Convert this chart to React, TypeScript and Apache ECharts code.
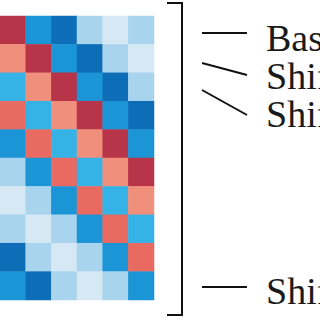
import React, { useEffect, useRef } from "react";
import * as echarts from "echarts";

// Heatmap categories (columns left to right, rows top to bottom)
const colLabels = ["c0", "c1", "c2", "c3", "c4", "c5"];
const rowLabels = ["r0", "r1", "r2", "r3", "r4", "r5", "r6", "r7", "r8", "r9"];

// Cell values (estimated correlation-like levels)
const row0 = [1.0, -0.6, -0.8, -0.2, -0.05, -0.2];
const row1 = [0.5, 1.0, -0.6, -0.8, -0.2, -0.05];
const row2 = [-0.4, 0.5, 1.0, -0.6, -0.8, -0.2];
const row3 = [0.7, -0.4, 0.5, 1.0, -0.6, -0.8];
const row4 = [-0.6, 0.7, -0.4, 0.5, 1.0, -0.6];
const row5 = [-0.2, -0.6, 0.7, -0.4, 0.5, 1.0];
const row6 = [-0.05, -0.2, -0.6, 0.7, -0.4, 0.5];
const row7 = [-0.2, -0.05, -0.2, -0.6, 0.7, -0.4];
const row8 = [-0.8, -0.2, -0.05, -0.2, -0.6, 0.7];
const row9 = [-0.6, -0.8, -0.2, -0.05, -0.2, -0.6];
const rows = [row0, row1, row2, row3, row4, row5, row6, row7, row8, row9];

// Legend labels
const labels = ["Baseline", "Shift 1", "Shift 2", "Shift N"];

export default function App() {
  const ref = useRef<HTMLDivElement>(null);
  useEffect(() => {
    if (!ref.current) return;
    const chart = echarts.init(ref.current, null, { renderer: "svg" });
    const data: [number, number, number][] = [];
    rows.forEach((r, ri) => r.forEach((v, ci) => data.push([ci, ri, v])));
    const font = "'Liberation Serif', 'Times New Roman', serif";
    const lineStyle = { stroke: "#111", lineWidth: 2 };
    chart.setOption({
      animation: false,
      backgroundColor: "#ffffff",
      grid: { left: -16.4, top: 16, width: 170.4, height: 284 },
      xAxis: { type: "category", data: colLabels, show: false },
      yAxis: { type: "category", data: rowLabels, show: false, inverse: true },
      visualMap: {
        show: false,
        type: "piecewise",
        dimension: 2,
        pieces: [
          { min: -1, max: -0.7, color: "#0d6db7" },
          { min: -0.7, max: -0.5, color: "#1b95d6" },
          { min: -0.5, max: -0.3, color: "#36b3e6" },
          { min: -0.3, max: -0.1, color: "#a9d4ee" },
          { min: -0.1, max: 0.1, color: "#d5e8f3" },
          { min: 0.1, max: 0.6, color: "#f0907c" },
          { min: 0.6, max: 0.85, color: "#e96a61" },
          { min: 0.85, max: 1.01, color: "#b83449" },
        ],
      },
      series: [
        {
          type: "heatmap",
          data,
          itemStyle: { borderWidth: 0 },
          emphasis: { disabled: true },
        },
      ],
      graphic: [
        {
          type: "polyline",
          shape: { points: [[167, 3], [182, 3], [182, 315], [167, 315]] },
          style: { stroke: "#111", lineWidth: 2, fill: null },
        },
        { type: "line", shape: { x1: 202, y1: 33, x2: 247, y2: 33 }, style: lineStyle },
        { type: "line", shape: { x1: 202, y1: 63, x2: 247, y2: 75 }, style: lineStyle },
        { type: "line", shape: { x1: 202, y1: 90, x2: 247, y2: 115 }, style: lineStyle },
        { type: "line", shape: { x1: 202, y1: 287, x2: 247, y2: 287 }, style: lineStyle },
        ...labels.map((t, i) => ({
          type: "text",
          x: 266,
          y: [37.5, 75.5, 114, 290.5][i],
          style: {
            text: t,
            font: `38px ${font}`,
            fill: "#1a1a1a",
            verticalAlign: "middle",
            align: "left",
          },
        })),
      ],
    });
    return () => chart.dispose();
  }, []);
  return (
    <div
      ref={ref}
      style={{ position: "fixed", left: 0, top: 0, width: 320, height: 320 }}
    />
  );
}
